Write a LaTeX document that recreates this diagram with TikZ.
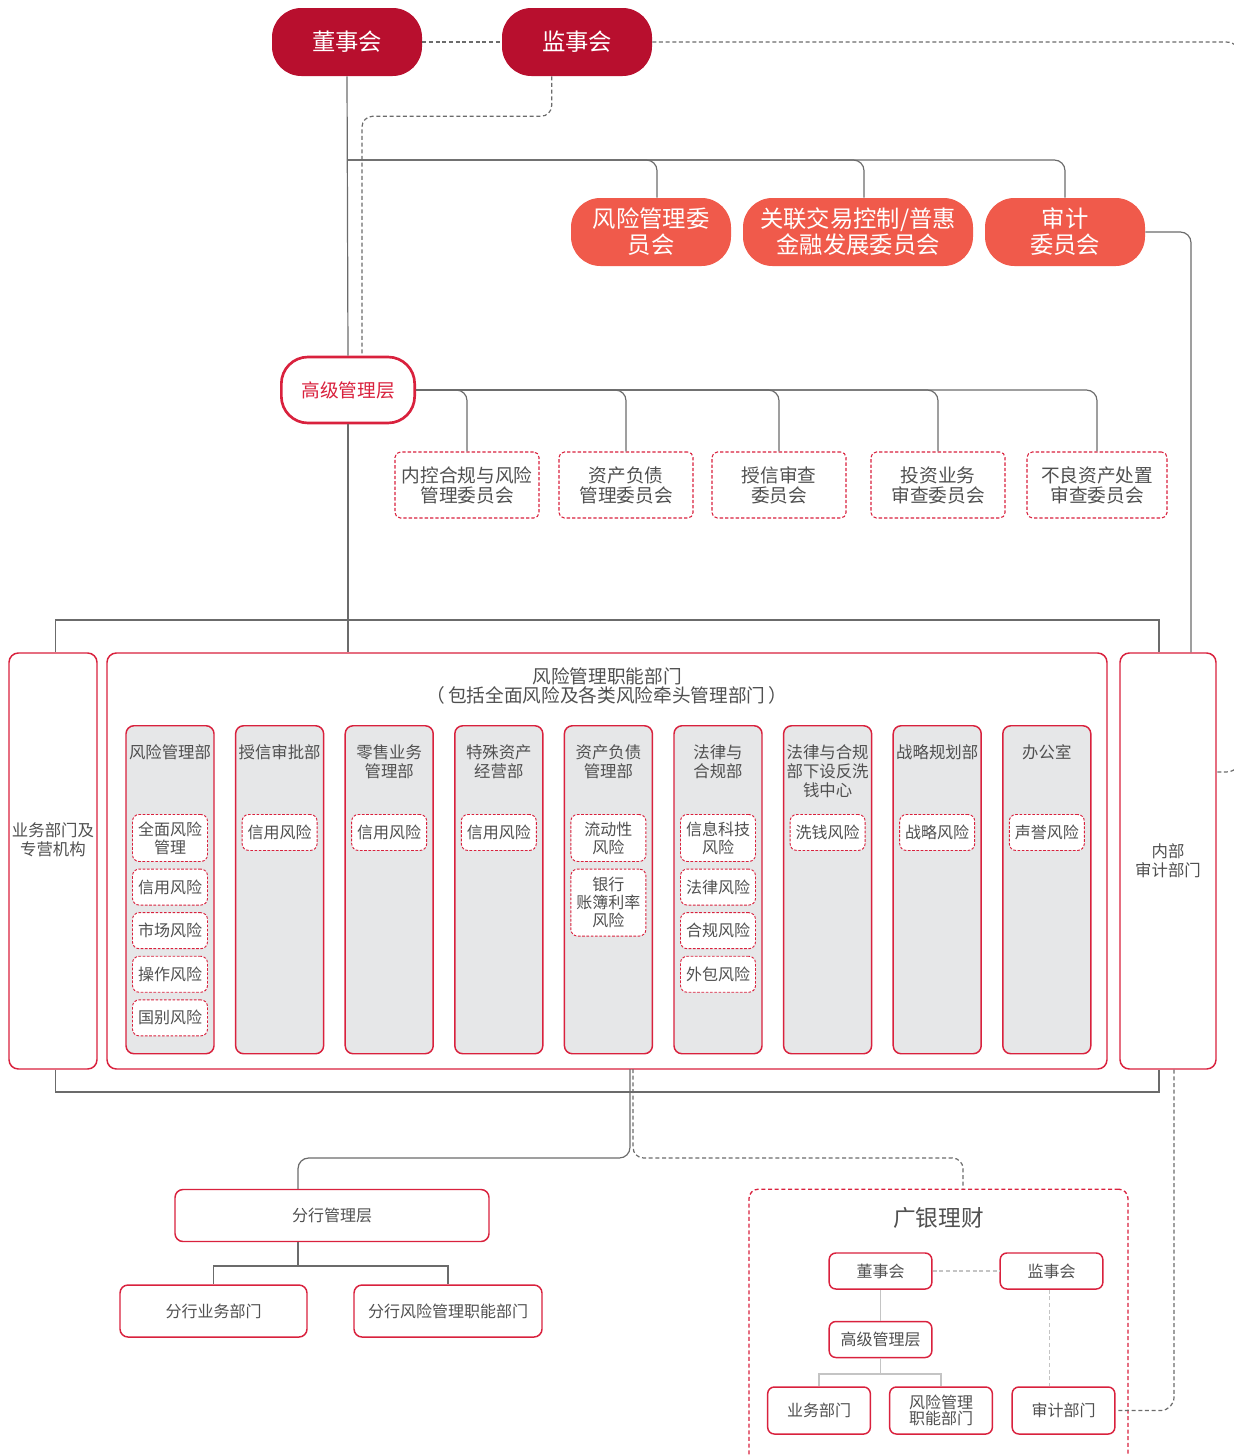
\documentclass[tikz,border=0pt]{standalone}
\usepackage{fontspec}
\setmainfont{Noto Sans CJK SC}
\usepackage{xcolor}
\usetikzlibrary{positioning}

\definecolor{darkred}{HTML}{B80F2E}
\definecolor{salmon}{HTML}{F05A4B}
\definecolor{framered}{HTML}{D9213D}
\definecolor{panel}{HTML}{E6E7E8}
\definecolor{txtgray}{HTML}{505050}
\definecolor{linegray}{HTML}{6B6B6B}
\definecolor{lightline}{HTML}{C4C4C4}

\begin{document}
\begin{tikzpicture}[x=0.75pt,y=-0.75pt,
    board/.style={rectangle,rounded corners=22pt,fill=darkred,text=white,align=center,
      minimum width=112.5pt,minimum height=51pt,font=\fontsize{17.5}{19.5}\selectfont},
    cmte/.style={board,fill=salmon,minimum width=120pt},
    senior/.style={rectangle,rounded corners=20pt,draw=framered,line width=2pt,fill=white,
      text=framered,minimum width=100pt,minimum height=49.5pt,font=\fontsize{14}{16}\selectfont},
    subcmte/.style={rectangle,rounded corners=4pt,draw=framered,line width=0.8pt,
      dash pattern=on 2.5pt off 1.5pt,text=txtgray,align=center,minimum width=100.5pt,
      minimum height=49.5pt,font=\fontsize{14}{15}\selectfont},
    outer/.style={rectangle,rounded corners=7pt,draw=framered,line width=1.1pt,fill=white,
      minimum height=312pt},
    lbl/.style={text=txtgray,align=center,inner sep=0pt,font=\fontsize{12.3}{14.3}\selectfont},
    colbox/.style={rectangle,rounded corners=6pt,draw=framered,line width=1.1pt,fill=panel,
      anchor=north,minimum width=66pt,minimum height=246pt},
    coltitle/.style={lbl},
    risk/.style={rectangle,rounded corners=5pt,draw=framered,line width=0.7pt,
      dash pattern=on 2pt off 1.2pt,fill=white,text=txtgray,align=center,inner sep=1pt,
      minimum width=56.25pt,minimum height=27pt,font=\fontsize{12}{13.5}\selectfont},
    branch/.style={rectangle,rounded corners=6pt,draw=framered,line width=1.1pt,fill=white,
      text=txtgray,minimum height=39pt,font=\fontsize{12}{14}\selectfont},
    gybox/.style={rectangle,rounded corners=5pt,draw=framered,line width=1.1pt,fill=white,
      text=txtgray,align=center,minimum width=77pt,minimum height=27pt,
      font=\fontsize{12}{11.5}\selectfont},
    conn/.style={draw=linegray,line width=0.9pt},
    dconn/.style={conn,dash pattern=on 3pt off 2pt},
    lconn/.style={draw=lightline,line width=0.9pt}]

    \useasboundingbox (0,0) rectangle (1233,1456);

    % top level
    \node[board] (dsh) at (347,42) {董事会};
    \node[board] (jsh) at (577,42) {监事会};

    \node[cmte] (fxwyh) at (651,232) {风险管理委\\员会};
    \node[cmte,minimum width=172.5pt] (glzy) at (858,232) {关联交易控制/普惠\\金融发展委员会};
    \node[cmte] (sjwyh) at (1065,232) {审计\\委员会};

    \node[senior] (gjglc) at (348,390) {高级管理层};

    \node[subcmte,minimum width=108pt] (nk) at (467,485) {内控合规与风险\\管理委员会};
    \node[subcmte] (zcfz) at (626,485) {资产负债\\管理委员会};
    \node[subcmte] (sxsc) at (779,485) {授信审查\\委员会};
    \node[subcmte] (tzyw) at (938,485) {投资业务\\审查委员会};
    \node[subcmte,minimum width=105pt] (blzc) at (1097,485) {不良资产处置\\审查委员会};

    % middle row
    \node[outer,minimum width=66pt,
      label={[lbl,yshift=15.75pt]center:{业务部门及\\专营机构}}] (ywbm) at (53,861) {};
    \node[outer,minimum width=750pt] (fxzn) at (607,861) {};
    \node[outer,minimum width=72pt,
      label={[lbl]center:{内部\\审计部门}}] (nbsj) at (1168,861) {};
    \node[lbl,below=11pt of fxzn.north,font=\fontsize{14}{14.5}\selectfont] (fxzntt)
    {风险管理职能部门\\（\,包括全面风险及各类风险牵头管理部门\,）};

    \node[colbox] (c1) at (170,725) {};
    \node[colbox] (c2) at (279.6,725) {};
    \node[colbox] (c3) at (389.2,725) {};
    \node[colbox] (c4) at (498.8,725) {};
    \node[colbox] (c5) at (608.4,725) {};
    \node[colbox] (c6) at (718,725) {};
    \node[colbox] (c7) at (827.6,725) {};
    \node[colbox] (c8) at (937.2,725) {};
    \node[colbox] (c9) at (1046.8,725) {};

    \node[coltitle,below=14.25pt of c1.north] (t1) {风险管理部};
    \node[coltitle,below=14.25pt of c2.north] (t2) {授信审批部};
    \node[coltitle,below=14.25pt of c3.north] (t3) {零售业务\\管理部};
    \node[coltitle,below=14.25pt of c4.north] (t4) {特殊资产\\经营部};
    \node[coltitle,below=14.25pt of c5.north] (t5) {资产负债\\管理部};
    \node[coltitle,below=14.25pt of c6.north] (t6) {法律与\\合规部};
    \node[coltitle,below=14.25pt of c7.north] (t7) {法律与合规\\部下设反洗\\钱中心};
    \node[coltitle,below=14.25pt of c8.north] (t8) {战略规划部};
    \node[coltitle,below=14.25pt of c9.north] (t9) {办公室};

    \node[risk,minimum height=35.25pt,below=66.75pt of c1.north] (r11) {全面风险\\管理};
    \node[risk,below=5pt of r11] (r12) {信用风险};
    \node[risk,below=5pt of r12] (r13) {市场风险};
    \node[risk,below=5pt of r13] (r14) {操作风险};
    \node[risk,below=5pt of r14] (r15) {国别风险};
    \node[risk,below=66.75pt of c2.north] (r21) {信用风险};
    \node[risk,below=66.75pt of c3.north] (r31) {信用风险};
    \node[risk,below=66.75pt of c4.north] (r41) {信用风险};
    \node[risk,minimum height=35.25pt,below=66.75pt of c5.north] (r51) {流动性\\风险};
    \node[risk,minimum height=50.25pt,below=5pt of r51] (r52) {银行\\账簿利率\\风险};
    \node[risk,minimum height=35.25pt,below=66.75pt of c6.north] (r61) {信息科技\\风险};
    \node[risk,below=5pt of r61] (r62) {法律风险};
    \node[risk,below=5pt of r62] (r63) {合规风险};
    \node[risk,below=5pt of r63] (r64) {外包风险};
    \node[risk,below=66.75pt of c7.north] (r71) {洗钱风险};
    \node[risk,below=66.75pt of c8.north] (r81) {战略风险};
    \node[risk,below=66.75pt of c9.north] (r91) {声誉风险};

    % branch level
    \node[branch,minimum width=235.5pt] (fhglc) at (332,1215.5) {分行管理层};
    \node[branch,minimum width=140.25pt] (fhyw) at (213.5,1311) {分行业务部门};
    \node[branch,minimum width=141pt] (fhfx) at (448,1311) {分行风险管理职能部门};

    % wealth management subsidiary
    \node[rectangle,rounded corners=7pt,draw=framered,line width=1pt,
      dash pattern=on 3pt off 2pt,minimum width=284.25pt,minimum height=218pt] (gylc)
      at (938.5,1334.5) {};
    \node[text=txtgray,inner sep=0pt,below=14pt of gylc.north,
      font=\fontsize{17}{17}\selectfont] (gytt) {广银理财};
    \node[gybox] (gydsh) at (880.5,1271) {董事会};
    \node[gybox] (gyjsh) at (1051.5,1271) {监事会};
    \node[gybox] (gygj) at (880.5,1339.5) {高级管理层};
    \node[gybox,minimum height=35.25pt] (gyyw) at (819,1410.5) {业务部门};
    \node[gybox,minimum height=35.25pt] (gyfx) at (941,1410.5) {风险管理\\职能部门};
    \node[gybox,minimum height=35.25pt] (gysj) at (1063.5,1410.5) {审计部门};

    % junction points
    \coordinate (bus) at (347,160);
    \coordinate (bkt) at (347,620);
    \coordinate (bkt2) at (630,1092);
    \coordinate (mid) at (630,1069);
    \coordinate (mid2) at (633,1069);
    \coordinate (far) at (1242,42);
    \coordinate (farB) at (1242,772);
    \coordinate (fhj) at (298,1266);
    \coordinate (gyj) at (880.5,1374);

    % connectors
    \draw[dconn] (dsh.east) -- (jsh.west);
    \draw[dconn,rounded corners=12pt] (jsh.east) -- (far) -- (farB) -- (farB -| nbsj.east);
    \draw[dconn,rounded corners=8pt] ([xshift=-19pt]jsh.south) -- ++(0,40)
      -| ([xshift=10.5pt]gjglc.north);

    \draw[conn] (dsh.south) -- (gjglc.north);
    \draw[conn] (gjglc.south) -- (gjglc.south |- fxzn.north);
    \draw[conn,rounded corners=8pt] (bus) -| ([xshift=4.5pt]fxwyh.north);
    \draw[conn,rounded corners=8pt] (bus) -| ([xshift=4.5pt]glzy.north);
    \draw[conn,rounded corners=8pt] (bus) -| (sjwyh.north);
    \draw[conn,rounded corners=8pt] (sjwyh.east) -| ([xshift=17.25pt]nbsj.north);

    \draw[conn,rounded corners=8pt] (gjglc.east) -| (nk.north);
    \draw[conn,rounded corners=8pt] (gjglc.east) -| (zcfz.north);
    \draw[conn,rounded corners=8pt] (gjglc.east) -| (sxsc.north);
    \draw[conn,rounded corners=8pt] (gjglc.east) -| (tzyw.north);
    \draw[conn,rounded corners=8pt] (gjglc.east) -| (blzc.north);

    \draw[conn] ([xshift=2pt]ywbm.north) |- (bkt) -| ([xshift=-6.75pt]nbsj.north);
    \draw[conn] ([xshift=2pt]ywbm.south) |- (bkt2) -| ([xshift=-6.75pt]nbsj.south);

    \draw[conn,rounded corners=8pt] (mid) -- ++(0,89) -| ([xshift=-25.5pt]fhglc.north);
    \draw[dconn,rounded corners=8pt] (mid2) -- ++(0,89) -| ([xshift=18.4pt]gylc.north);
    \draw[dconn,rounded corners=10pt] ([xshift=4.5pt]nbsj.south) |- (gysj.east);

    \draw[conn] ([xshift=-25.5pt]fhglc.south) -- (fhj) -| (fhyw.north);
    \draw[conn] (fhj) -| (fhfx.north);

    \draw[lconn,dash pattern=on 3pt off 2pt] (gydsh.east) -- (gyjsh.west);
    \draw[lconn,dash pattern=on 3pt off 2pt] ([xshift=-1.5pt]gyjsh.south)
      -- ([xshift=-1.5pt]gyjsh.south |- gysj.north);
    \draw[lconn] (gydsh.south) -- (gygj.north);
    \draw[lconn] (gygj.south) -- (gyj) -| (gyyw.north);
    \draw[lconn] (gyj) -| (gyfx.north);
\end{tikzpicture}
\end{document}
